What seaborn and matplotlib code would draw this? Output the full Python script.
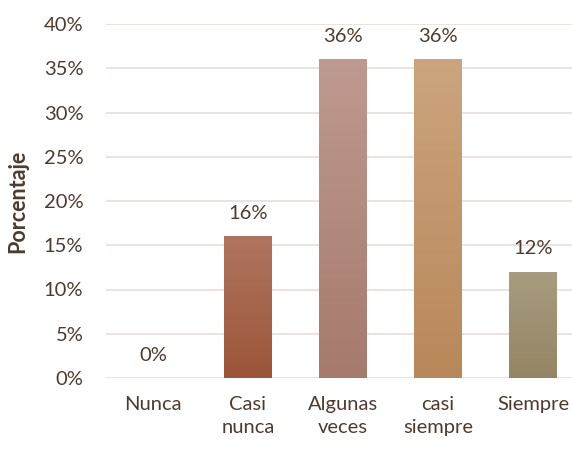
import matplotlib
matplotlib.use("Agg")
import matplotlib.pyplot as plt
import matplotlib.colors as mcolors
import numpy as np
import pandas as pd
import seaborn as sns

categories = ["Nunca", "Casi\nnunca", "Algunas\nveces", "casi\nsiempre", "Siempre"]
values = [0, 16, 36, 36, 12]
top_colors = ["#B07560", "#B07560", "#BF9A90", "#CCA47E", "#A89C80"]
bottom_colors = ["#9C5538", "#9C5538", "#A67A6C", "#B8885A", "#948663"]
yticks = [0, 5, 10, 15, 20, 25, 30, 35, 40]

sns.set_theme(style="white")
plt.rcParams["font.family"] = ["Lato", "DejaVu Sans"]
text_color = "#4E3B30"
fs = 14.5

df = pd.DataFrame({"cat": categories, "val": values})
fig = plt.figure(figsize=(5.72, 4.49), dpi=100)
ax = fig.add_axes([105.5 / 572, 1 - 378 / 449, 475 / 572, (378 - 24) / 449])

sns.barplot(data=df, x="cat", y="val", ax=ax, width=0.505, color=bottom_colors[0],
            saturation=1, zorder=2)

# gradient fill for each bar, clipped to the bar patch
for patch, tc, bc in zip(ax.patches, top_colors, bottom_colors):
    x0, y0 = patch.get_x(), patch.get_y()
    w, h = patch.get_width(), patch.get_height()
    if h <= 0:
        patch.set_visible(False)
        continue
    cmap = mcolors.LinearSegmentedColormap.from_list("g", [bc, tc])
    grad = np.linspace(0, 1, 256).reshape(-1, 1)
    im = ax.imshow(grad, cmap=cmap, origin="lower", aspect="auto",
                   extent=[x0, x0 + w, y0, y0 + h], zorder=3)
    im.set_clip_path(patch)
    patch.set_facecolor("none")
    patch.set_edgecolor("none")

ax.set_xlim(-0.5, len(categories) - 0.5)
ax.set_ylim(0, 40)
ax.set_yticks(yticks)
ax.set_yticklabels([f"{t}%" for t in yticks])
ax.yaxis.grid(True, color="#E8DEDC", linewidth=1.2, zorder=0)
ax.set_axisbelow(True)
for s in ax.spines.values():
    s.set_visible(False)
ax.tick_params(axis="y", length=0, pad=16, labelsize=fs, labelcolor=text_color)
ax.tick_params(axis="x", length=0, pad=13, labelsize=fs, labelcolor=text_color)
for lbl in ax.get_xticklabels():
    lbl.set_linespacing(1.4)
ax.set_xlabel("")
ax.set_ylabel("")
fig.text(18 / 572, 1 - 201 / 449, "Porcentaje", rotation=90, ha="center", va="center",
         fontsize=15.5, fontweight="bold", color=text_color)

for i, v in enumerate(values):
    ax.annotate(f"{v}%", (i, v), xytext=(0, 16.5), textcoords="offset points",
                ha="center", va="center", fontsize=fs, color=text_color)

fig.savefig("out.png", dpi=100)
